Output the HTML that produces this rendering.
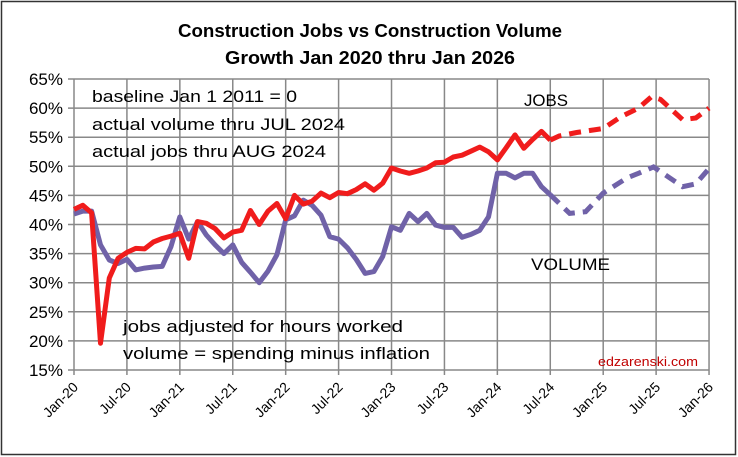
<!DOCTYPE html>
<html><head><meta charset="utf-8">
<style>
html,body{margin:0;padding:0;background:#fff;}
svg{display:block;font-family:"Liberation Sans",Calibri,sans-serif;}
</style></head>
<body>
<svg id="c" width="738" height="457" viewBox="0 0 738 457" xmlns="http://www.w3.org/2000/svg">
<rect x="1.5" y="1.5" width="734" height="453" fill="#fff" stroke="#333" stroke-width="1.5"/>
<text x="370" y="37" text-anchor="middle" font-size="18" font-weight="bold" textLength="384" lengthAdjust="spacingAndGlyphs">Construction Jobs vs Construction Volume</text>
<text x="370" y="64" text-anchor="middle" font-size="18" font-weight="bold" textLength="290" lengthAdjust="spacingAndGlyphs">Growth Jan 2020 thru Jan 2026</text>
<g id="grid"></g>
<g id="series"></g>
<g font-size="17" fill="#000">
<text x="92" y="102" textLength="205" lengthAdjust="spacingAndGlyphs">baseline Jan 1 2011 = 0</text>
<text x="92" y="130" textLength="253" lengthAdjust="spacingAndGlyphs">actual volume thru JUL 2024</text>
<text x="92" y="157" textLength="234" lengthAdjust="spacingAndGlyphs">actual jobs thru AUG 2024</text>
<text x="524" y="106" textLength="44" lengthAdjust="spacingAndGlyphs">JOBS</text>
<text x="531" y="270" textLength="79" lengthAdjust="spacingAndGlyphs">VOLUME</text>
<text x="123" y="332" textLength="280" lengthAdjust="spacingAndGlyphs">jobs adjusted for hours worked</text>
<text x="123" y="359" textLength="307" lengthAdjust="spacingAndGlyphs">volume = spending minus inflation</text>
</g>
<text x="598" y="366" font-size="13" fill="#c00000" textLength="100" lengthAdjust="spacingAndGlyphs">edzarenski.com</text>
</svg>
<script>
var NS="http://www.w3.org/2000/svg";
function X(m){return 74+m*8.82;}
function Y(v){return 79+(65-v)*5.82;}
var g=document.getElementById("grid"),s=document.getElementById("series");
function el(p,t,a,txt){var e=document.createElementNS(NS,t);for(var k in a)e.setAttribute(k,a[k]);if(txt)e.textContent=txt;p.appendChild(e);return e;}
for(var v=15;v<=65;v+=5){el(g,"line",{x1:68,x2:X(72),y1:Y(v),y2:Y(v),stroke:"#888","stroke-width":1.5});
el(g,"text",{x:63,y:Y(v)+6,"text-anchor":"end","font-size":"17"},v+"%");}
var labs=["Jan-20","Jul-20","Jan-21","Jul-21","Jan-22","Jul-22","Jan-23","Jul-23","Jan-24","Jul-24","Jan-25","Jul-25","Jan-26"];
for(var i=0;i<=12;i++){var x=X(i*6);el(g,"line",{x1:x,x2:x,y1:Y(65),y2:Y(15)+5,stroke:"#888","stroke-width":1.5});
el(g,"text",{x:x+5,y:Y(15)+18,"text-anchor":"end","font-size":"14",transform:"rotate(-45 "+(x+5)+" "+(Y(15)+18)+")"},labs[i]);}
var jobs=[[0,42.6],[1,43.3],[2,42],[3,19.6],[4,30.8],[5,34.2],[6,35.2],[7,35.9],[8,35.8],[9,37],[10,37.6],[11,38],[12,38.5],[13,34.2],[14,40.5],[15,40.2],[16,39.3],[17,37.7],[18,38.7],[19,39],[20,42.4],[21,40],[22,42.3],[23,43.6],[24,41],[25,45],[26,43.5],[27,44],[28,45.4],[29,44.6],[30,45.5],[31,45.3],[32,46],[33,47],[34,45.9],[35,47.1],[36,49.7],[37,49.2],[38,48.8],[39,49.2],[40,49.7],[41,50.6],[42,50.7],[43,51.6],[44,51.9],[45,52.6],[46,53.3],[47,52.5],[48,51.1],[49,53.2],[50,55.4],[51,53.1],[52,54.6],[53,56],[54,54.5]];
var jobsF=[[54,54.5],[55,55.2],[57,55.8],[60,56.5],[62,58.5],[64,60],[65.5,62],[66.5,61.5],[69,58],[70.5,58.3],[72,60]];
var vol=[[0,41.8],[1,42.3],[2,42.3],[3,36.5],[4,33.9],[5,33.3],[6,34],[7,32.2],[8,32.5],[9,32.7],[10,32.8],[11,36.2],[12,41.3],[13,37.5],[14,40.5],[15,38.2],[16,36.5],[17,35],[18,36.5],[19,33.5],[20,31.8],[21,30],[22,32],[23,34.8],[24,40.8],[25,41.5],[26,44.2],[27,43.3],[28,41.6],[29,37.9],[30,37.5],[31,36],[32,34],[33,31.6],[34,31.9],[35,34.5],[36,39.6],[37,39],[38,41.9],[39,40.5],[40,41.9],[41,39.9],[42,39.5],[43,39.5],[44,37.8],[45,38.3],[46,39],[47,41.3],[48,48.8],[49,48.8],[50,48],[51,48.8],[52,48.8],[53,46.5],[54,45.1]];
var volF=[[54,45.1],[56.2,41.9],[58,42.2],[60,45.4],[62.7,48],[64,48.8],[65.7,49.9],[69,46.5],[70.5,47],[72,49.6]];
function pts(a){return a.map(function(p){return X(p[0]).toFixed(1)+","+Y(p[1]).toFixed(1);}).join(" ");}
el(s,"polyline",{points:pts(vol),fill:"none",stroke:"#7062a8","stroke-width":5,"stroke-linejoin":"round"});
el(s,"polyline",{points:pts(volF),fill:"none",stroke:"#7062a8","stroke-width":5,"stroke-dasharray":"12 8"});
el(s,"polyline",{points:pts(jobs),fill:"none",stroke:"#f01c1c","stroke-width":5,"stroke-linejoin":"round"});
el(s,"polyline",{points:pts(jobsF),fill:"none",stroke:"#f01c1c","stroke-width":5,"stroke-dasharray":"12 8"});
</script>
</body></html>
